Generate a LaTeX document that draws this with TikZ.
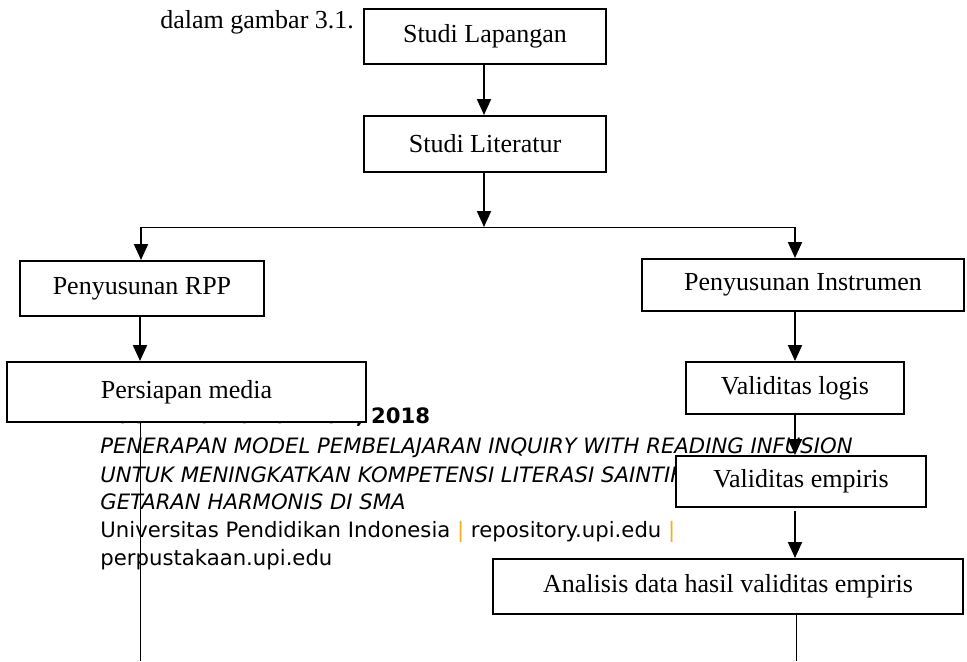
\documentclass[tikz,border=0pt]{standalone}
\usepackage{fontspec}
\setmainfont{Liberation Serif}
\newfontfamily\footfont{DejaVu Sans}
\usepackage{xcolor}
\usepackage{tikz}
\usetikzlibrary{arrows.meta,calc,positioning}
\definecolor{upiorange}{HTML}{F2B01E}

\begin{document}
\begin{tikzpicture}[x=0.5pt,y=-0.5pt,
    box/.style={draw,line width=1pt,fill=white,inner sep=0pt,font=\fontsize{13}{15}\selectfont},
    flow/.style={line width=1pt,-{Triangle[length=8pt,width=7pt]}},
    wire/.style={line width=0.5pt},
    foot/.style={anchor=base west,inner sep=0pt,font=\footfont\fontsize{10.6}{14}\selectfont}]
  \useasboundingbox (0,0) rectangle (967,661);
  % footer of the scanned page, lies under the chart
  \node[foot] (fname) at (100,423) {\bfseries Ade Rima Nurrahman, 2018};
  \node[foot] (ftitle1) at (100,453) {\itshape PENERAPAN MODEL PEMBELAJARAN INQUIRY WITH READING INFUSION};
  \node[foot] (ftitle2) at (100,482) {\itshape UNTUK MENINGKATKAN KOMPETENSI LITERASI SAINTIFIK};
  \node[foot] (ftitle3) at (100,509) {\itshape GETARAN HARMONIS DI SMA};
  \node[foot] (funi) at (100,537) {Universitas Pendidikan Indonesia \textcolor{upiorange}{|} repository.upi.edu \textcolor{upiorange}{|}};
  \node[foot] (flib) at (100,565) {perpustakaan.upi.edu};
  \node[anchor=base west,inner sep=0pt,font=\fontsize{13}{15}\selectfont] (intro) at (160,28) {dalam gambar 3.1.};
  % branch points
  \coordinate (split) at (484,227);
  \coordinate (lbr) at (141,227);
  \coordinate (rbr) at (795,227);
  \coordinate (lend) at (140,661);
  \coordinate (rend) at (796,661);
  \draw[wire] (lbr) -- (rbr);
  \draw[wire] (lend) -- (lend |- 0,422);
  \draw[wire] (rend) -- (rend |- 0,614);
  % boxes (sizes in pt, half the pixel size)
  \node[box,minimum width=121pt,minimum height=27.5pt] (lap) at (485,36.5) {Studi Lapangan};
  \node[box,minimum width=121pt,minimum height=28pt] (lit) at (485,144) {Studi Literatur};
  \node[box,minimum width=122pt,minimum height=27.5pt] (rpp) at (142,288.5) {Penyusunan RPP};
  \node[box,minimum width=179.5pt,minimum height=30pt] (media) at (186.5,392) {Persiapan media};
  \node[box,minimum width=161pt,minimum height=26pt] (instr) at (803,285) {Penyusunan Instrumen};
  \node[box,minimum width=109pt,minimum height=26pt] (logis) at (795,388) {Validitas logis};
  \node[box,minimum width=125pt,minimum height=25.5pt] (empiris) at (801,481.5) {Validitas empiris};
  \node[box,minimum width=235pt,minimum height=27.5pt] (analisis) at (728,586.5) {Analisis data hasil validitas empiris};
  % arrows
  \draw[flow] (lap.south -| split) -- (lit.north -| split);
  \draw[flow] (lit.south -| split) -- (split);
  \draw[flow] (lbr) -- (lbr |- rpp.north);
  \draw[flow] (rbr) -- (rbr |- instr.north);
  \draw[flow] (rpp.south -| lend) -- (media.north -| lend);
  \draw[flow] (instr.south -| rbr) -- (logis.north -| rbr);
  \draw[flow] (logis.south -| rbr) -- (empiris.north -| rbr);
  \draw[flow] ($(empiris.south -| rbr)+(0,3)$) -- (analisis.north -| rbr);
\end{tikzpicture}
\end{document}
